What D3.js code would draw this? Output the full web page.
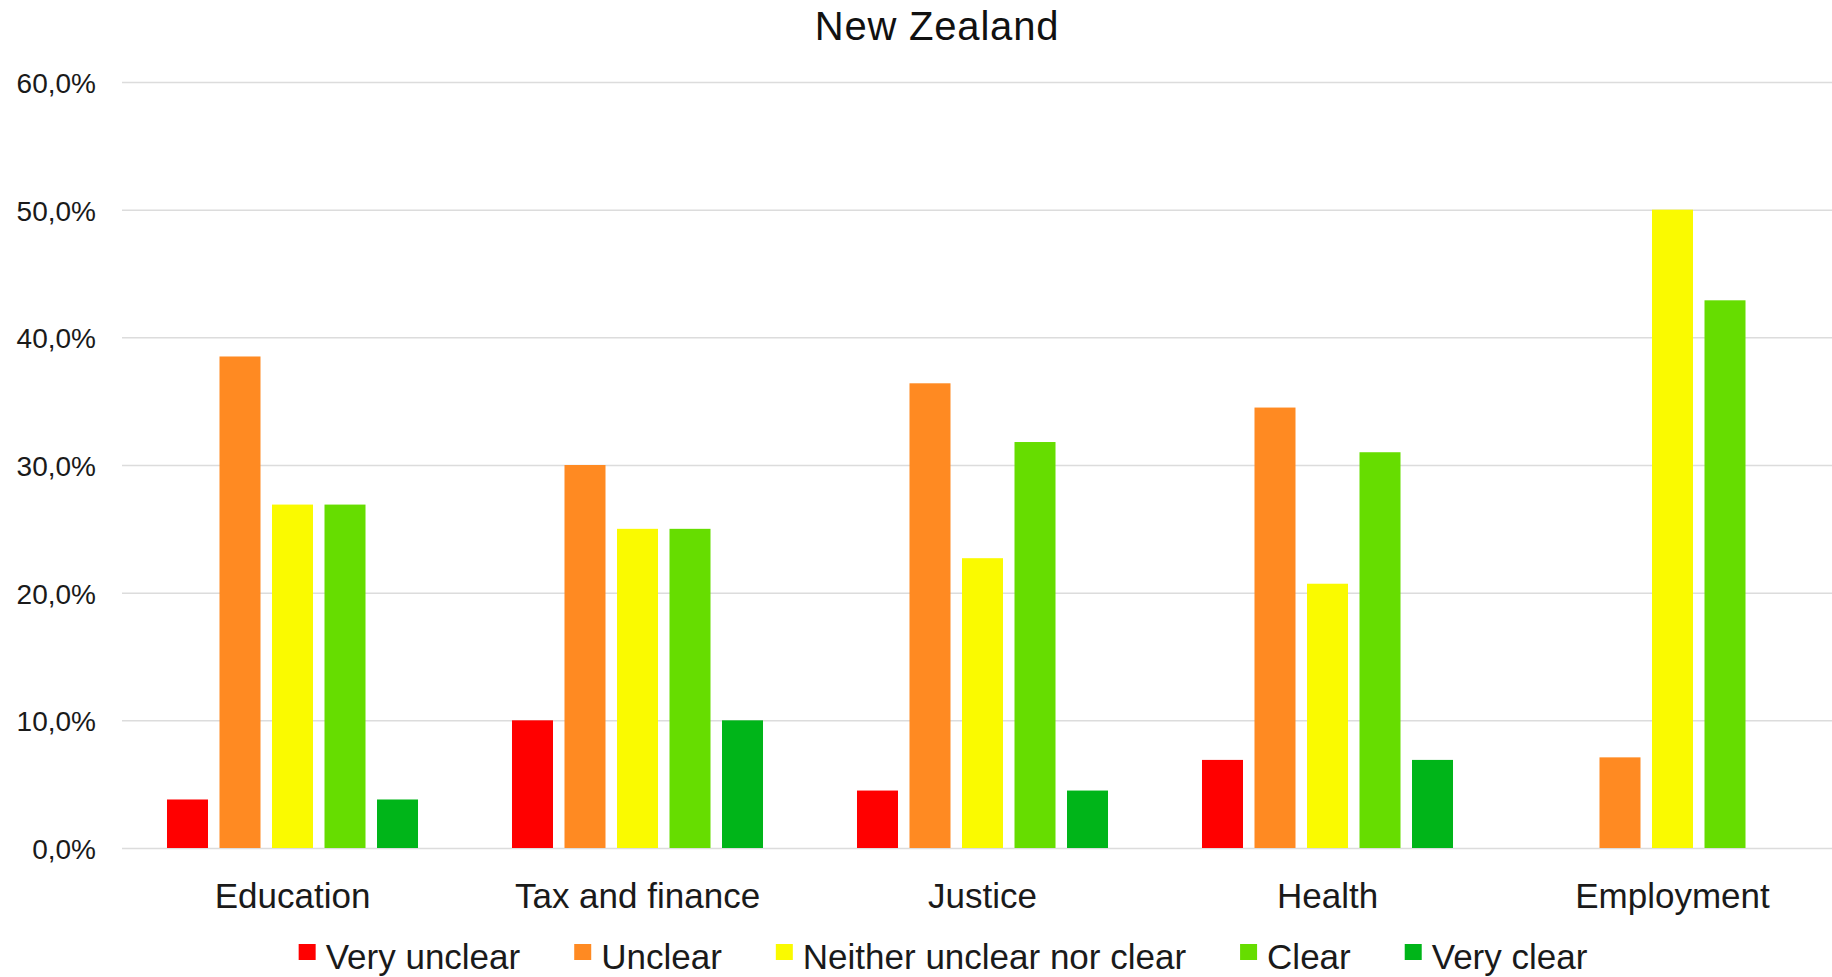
<!DOCTYPE html>
<html>
<head>
<meta charset="utf-8">
<script src="https://cdn.jsdelivr.net/npm/d3@7"></script>
<style>
  html, body { margin: 0; padding: 0; background: #ffffff; }
  svg { display: block; font-family: "Liberation Sans", Arial, Helvetica, sans-serif; }
</style>
</head>
<body>
<svg id="chart" width="1832" height="977"></svg>
<script>
// ---- Data ----
const title = "New Zealand";
const categories = ["Education", "Tax and finance", "Justice", "Health", "Employment"];
const seriesNames = ["Very unclear", "Unclear", "Neither unclear nor clear", "Clear", "Very clear"];
const seriesColors = ["#ff0000", "#ff8a22", "#fafa00", "#66dd00", "#00b519"];
const veryUnclear = [3.8, 10.0, 4.5, 6.9, 0.0];
const unclear     = [38.5, 30.0, 36.4, 34.5, 7.1];
const neither     = [26.9, 25.0, 22.7, 20.7, 50.0];
const clear       = [26.9, 25.0, 31.8, 31.0, 42.9];
const veryClear   = [3.8, 10.0, 4.5, 6.9, 0.0];
const seriesValues = [veryUnclear, unclear, neither, clear, veryClear];
const yTicks = [0, 10, 20, 30, 40, 50, 60];
const yTickLabels = ["0,0%", "10,0%", "20,0%", "30,0%", "40,0%", "50,0%", "60,0%"];

// ---- Layout ----
const svg = d3.select("#chart");
const W = 1832, H = 977;
const plot = { left: 120, right: 1845, top: 82, bottom: 848, gridLeft: 122 };

const x0 = d3.scaleBand().domain(categories).range([plot.left, plot.right]).paddingInner(0).paddingOuter(0);
const x1 = d3.scaleBand().domain(seriesNames).range([0, x0.bandwidth()]).paddingInner(0.219).paddingOuter(0.895);
const y = d3.scaleLinear().domain([0, 60]).range([plot.bottom, plot.top]);

// Gridlines
const yAxis = d3.axisLeft(y)
  .tickValues(yTicks)
  .tickSize(-(W - plot.gridLeft))
  .tickFormat((d, i) => yTickLabels[i]);

const gy = svg.append("g")
  .attr("transform", `translate(${plot.gridLeft},0)`)
  .call(yAxis);
gy.select(".domain").remove();
gy.selectAll(".tick line").attr("stroke", "#dcdcdc").attr("stroke-width", 1.5);
gy.selectAll(".tick text")
  .attr("x", -26)
  .attr("dy", "0.37em")
  .attr("fill", "#1a1a1a")
  .style("font-size", "28px");

// Bars
const groups = svg.append("g").selectAll("g")
  .data(categories)
  .join("g")
  .attr("transform", d => `translate(${x0(d)},0)`);

groups.selectAll("rect")
  .data((c, ci) => seriesNames.map((s, si) => ({ s, si, v: seriesValues[si][ci] })))
  .join("rect")
  .attr("x", d => x1(d.s))
  .attr("width", x1.bandwidth())
  .attr("y", d => y(d.v))
  .attr("height", d => y(0) - y(d.v))
  .attr("fill", d => seriesColors[d.si]);

// Category axis labels
const xAxis = d3.axisBottom(x0).tickSize(0).tickPadding(0);
const gx = svg.append("g")
  .attr("transform", `translate(0,${plot.bottom})`)
  .call(xAxis);
gx.select(".domain").remove();
gx.selectAll(".tick text")
  .attr("y", 60)
  .attr("dy", 0)
  .attr("fill", "#1a1a1a")
  .style("font-size", "35px");

// Title
svg.append("text")
  .attr("x", 937)
  .attr("y", 40)
  .attr("text-anchor", "middle")
  .attr("fill", "#111")
  .style("font-size", "40px")
  .style("letter-spacing", "0.8px")
  .text(title);

// Legend
const legend = svg.append("g");
const items = legend.selectAll("g")
  .data(seriesNames)
  .join("g");
items.append("rect")
  .attr("width", 17)
  .attr("height", 16)
  .attr("y", -25)
  .attr("fill", (d, i) => seriesColors[i]);
items.append("text")
  .attr("x", 27)
  .attr("y", 0)
  .attr("fill", "#1a1a1a")
  .style("font-size", "35px")
  .text(d => d);
let cx = 0;
const offsets = [];
const gap = 54;
items.each(function() {
  const tw = d3.select(this).select("text").node().getComputedTextLength();
  offsets.push(cx);
  cx += 27 + tw + gap;
});
const total = cx - gap;
const startX = 943 - total / 2;
items.attr("transform", (d, i) => `translate(${startX + offsets[i]},969)`);
</script>
</body>
</html>
